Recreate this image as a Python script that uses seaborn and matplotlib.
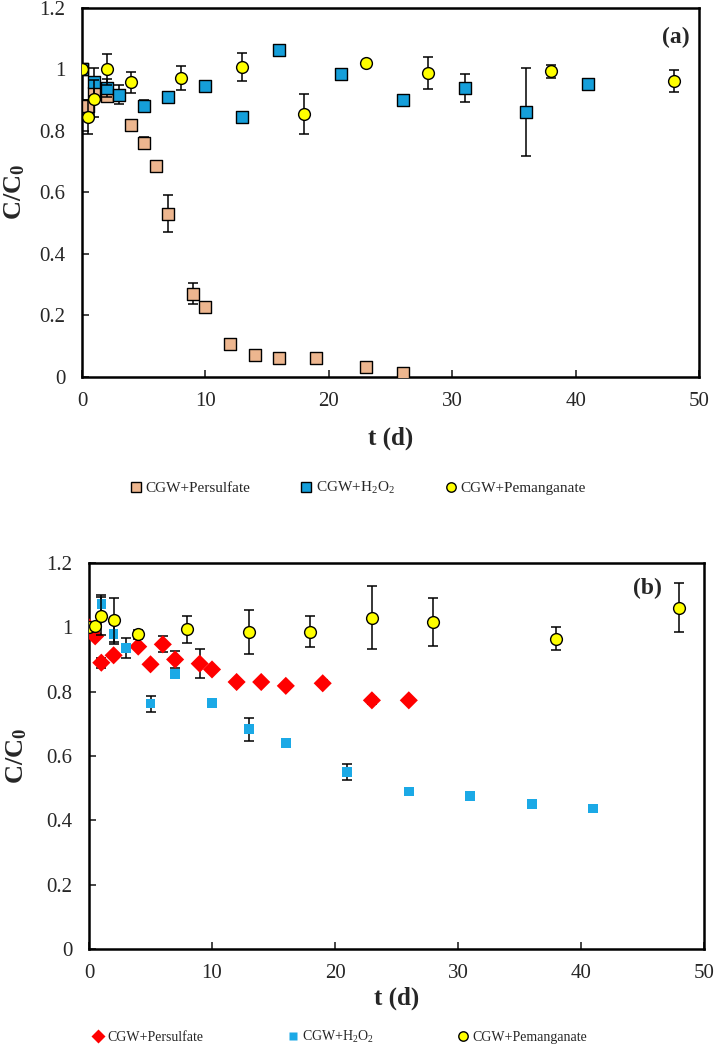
# -*- coding: utf-8 -*-

"""
Relative concentration C/C0 over time for three oxidant treatments,
two panels (a) and (b).
"""

import numpy as np
import pandas as pd
import matplotlib
matplotlib.use("Agg")
import matplotlib.pyplot as plt
from matplotlib.ticker import FuncFormatter
import seaborn as sns

## Data.

# Panel (a).
t_ps_a = [0, 0.5, 1, 2, 4, 5, 6, 7, 9, 10, 12, 14, 16, 19, 23, 26]
c_ps_a = [1.0, 0.88, 0.925, 0.915, 0.82, 0.76, 0.685, 0.53, 0.27, 0.225,
          0.105, 0.07, 0.06, 0.06, 0.03, 0.012]
e_ps_a = [0, 0.02, 0.03, 0.02, 0, 0.02, 0, 0.06, 0.035, 0, 0.015, 0, 0, 0,
          0, 0]

t_h2_a = [0, 1, 2, 3, 5, 7, 10, 13, 16, 21, 26, 31, 36, 41]
c_h2_a = [1.0, 0.96, 0.94, 0.918, 0.88, 0.912, 0.945, 0.846, 1.063, 0.985,
          0.902, 0.94, 0.862, 0.953]
e_h2_a = [0, 0.045, 0.03, 0.03, 0.02, 0, 0, 0, 0.015, 0, 0, 0.045, 0.143, 0]

t_pm_a = [0, 0.5, 1, 2, 4, 8, 13, 18, 23, 28, 38, 48]
c_pm_a = [1.0, 0.845, 0.905, 1.0, 0.958, 0.972, 1.008, 0.855, 1.022, 0.99,
          0.994, 0.962]
e_pm_a = [0, 0.055, 0.06, 0.05, 0.035, 0.038, 0.045, 0.065, 0, 0.052,
          0.022, 0.035]

# Panel (b).
t_ps_b = [0, 0.5, 1, 2, 4, 5, 6, 7, 9, 10, 12, 14, 16, 19, 23, 26]
c_ps_b = [1.0, 0.972, 0.89, 0.913, 0.94, 0.885, 0.947, 0.9, 0.887, 0.869,
          0.83, 0.83, 0.818, 0.826, 0.773, 0.773]
e_ps_b = [0, 0, 0.015, 0, 0, 0, 0.025, 0.025, 0.045, 0, 0, 0, 0, 0.01,
          0.01, 0]

t_h2_b = [1, 2, 3, 5, 7, 10, 13, 16, 21, 26, 31, 36, 41]
c_h2_b = [1.072, 0.979, 0.936, 0.763, 0.855, 0.765, 0.683, 0.641, 0.55,
          0.49, 0.475, 0.451, 0.437]
e_h2_b = [0.03, 0.03, 0.03, 0.025, 0, 0.01, 0.035, 0.005, 0.025, 0.01, 0,
          0.005, 0]

t_pm_b = [0, 0.5, 1, 2, 4, 8, 13, 18, 23, 28, 38, 48]
c_pm_b = [1.0, 1.004, 1.035, 1.022, 0.978, 0.994, 0.986, 0.986, 1.03,
          1.017, 0.965, 1.061]
e_pm_b = [0, 0, 0.06, 0.068, 0.015, 0.042, 0.068, 0.048, 0.098, 0.074,
          0.035, 0.076]

labels = ["CGW+Persulfate", "CGW+H$_2$O$_2$", "CGW+Pemanganate"]

## Style.
sns.set_style("ticks")
plt.rcParams["font.family"] = ["Liberation Serif", "DejaVu Serif"]
plt.rcParams["mathtext.fontset"] = "custom"
plt.rcParams["mathtext.rm"] = "Liberation Serif"
plt.rcParams["mathtext.it"] = "Liberation Serif:italic"
plt.rcParams["mathtext.bf"] = "Liberation Serif:bold"

fig = plt.figure(figsize=(7.15, 10.48), dpi=100)
ax_a = fig.add_axes([0.1147, 0.6407, 0.8629, 0.3516])
ax_b = fig.add_axes([0.1245, 0.0945, 0.8601, 0.3683])

# Each series: (t, c, err, marker, size, face, edge).
panel_a = [
    (t_ps_a, c_ps_a, e_ps_a, "s", 85, "#EDB68F", "black"),
    (t_h2_a, c_h2_a, e_h2_a, "s", 78, "#159FDA", "black"),
    (t_pm_a, c_pm_a, e_pm_a, "o", 72, "#FFFF00", "black"),
]
panel_b = [
    (t_ps_b, c_ps_b, e_ps_b, "D", 85, "#FF0000", "none"),
    (t_h2_b, c_h2_b, e_h2_b, "s", 48, "#1BA9E6", "none"),
    (t_pm_b, c_pm_b, e_pm_b, "o", 72, "#FFFF00", "black"),
]


def draw_panel(ax, series, tag, tag_xy, xlab_y, ylab_x):
    handles = []
    for i, (t, c, e, m, s, fc, ec) in enumerate(series):
        df = pd.DataFrame({"t": t, "c": c, "e": e})
        ebar = df[df["e"] > 0]
        ax.errorbar(ebar["t"], ebar["c"], yerr=ebar["e"], fmt="none",
                    ecolor="black", elinewidth=1.1, capsize=3.5,
                    capthick=1.1, zorder=2 + 2 * i)
        sns.scatterplot(data=df, x="t", y="c", marker=m, s=s, color=fc,
                        edgecolor=ec, linewidth=1.0, ax=ax,
                        zorder=3 + 2 * i, legend=False)
        handles.append(plt.Line2D([], [], ls="none", marker=m,
                                  markersize=np.sqrt(s) * 0.8,
                                  markerfacecolor=fc, markeredgecolor=ec,
                                  markeredgewidth=1.0))

    ax.set_xlim(0, 50)
    ax.set_ylim(0, 1.2)
    ax.set_xticks(np.arange(0, 51, 10))
    ax.set_yticks(np.arange(0, 1.21, 0.2))
    ax.yaxis.set_major_formatter(FuncFormatter(lambda v, p: "%g" % round(v, 1)))
    ax.tick_params(axis="both", direction="in", length=5, width=1.2,
                   labelsize=15, top=False, right=False)
    ax.tick_params(axis="x", pad=11)
    ax.tick_params(axis="y", pad=12)
    for sp in ax.spines.values():
        sp.set_visible(True)
        sp.set_linewidth(1.8)
        sp.set_color("black")

    ax.set_xlabel("t (d)", fontsize=18, fontweight="bold")
    ax.set_ylabel(r"C/C$_\mathbf{0}$", fontsize=19, fontweight="bold")
    ax.xaxis.set_label_coords(0.5, xlab_y)
    ax.yaxis.set_label_coords(ylab_x, 0.5)

    ax.text(tag_xy[0], tag_xy[1], tag, transform=ax.transAxes,
            ha="right", va="center", fontsize=17, fontweight="bold")
    return handles


h_a = draw_panel(ax_a, panel_a, "(a)", (0.985, 0.921), -0.137, -0.089)
h_b = draw_panel(ax_b, panel_b, "(b)", (0.932, 0.935), -0.098, -0.098)

# Legends below each panel.
fig.legend(h_a, labels, loc="center", bbox_to_anchor=(0.5, 1 - 488 / 1048),
           ncol=3, frameon=False, fontsize=11, handlelength=0.9,
           handletextpad=0.2, columnspacing=3.2)
fig.legend(h_b, labels, loc="center", bbox_to_anchor=(0.475, 1 - 1037 / 1048),
           ncol=3, frameon=False, fontsize=10, handlelength=0.9,
           handletextpad=0.2, columnspacing=6.0)

plt.savefig("out.png", dpi=100)
